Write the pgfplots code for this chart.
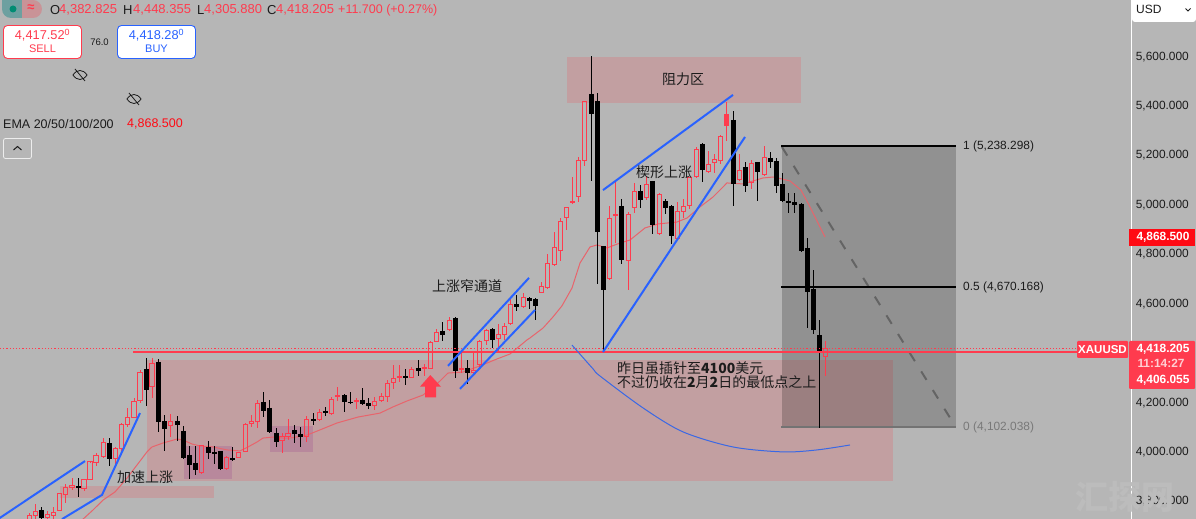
\documentclass[border=0pt]{standalone}
\usepackage{pgfplots}
\usepackage{pgfplotstable}
\pgfplotsset{compat=1.18}
\usepackage{fontspec}
\setmainfont{Liberation Sans}
\newfontfamily\cjk{Noto Sans CJK SC}
\definecolor{bgc}{HTML}{B6B6B6}
\definecolor{upc}{HTML}{FF3B4E}
\definecolor{tagr}{HTML}{FF0A14}
\definecolor{bluec}{HTML}{2962FF}
\definecolor{zonec}{HTML}{F44350}
\definecolor{emac}{HTML}{E8646C}
\definecolor{txt}{HTML}{1C1C1C}
% x is the bar position on the chart, t/b body top and bottom, h/l wick ends
\pgfplotstableread{
x t b h l
29.3 3743 3700 3751 3690
35.3 3758 3742 3789 3700
47.3 3747 3733 3758 3700
53.3 3755 3742 3778 3700
59.3 3832 3762 3832 3762
65.3 3857 3827 3868 3794
72 3864 3856 3893 3845
84 3886 3852 3890 3839
90 3959 3889 3960 3886
96 3983 3956 3994 3940
103.3 4038 3980 4054 3977
115.3 4014 3972 4018 3951
121.3 4108 4013 4115 3987
127.3 4139 4110 4176 4099
134 4204 4139 4216 4135
140 4321 4207 4331 4196
152 4355 4263 4378 4216
170.7 4123 4104 4153 4061
201.3 4023 3915 4023 3913
226.7 3977 3930 3983 3924
238.7 3998 3976 4000 3976
245.3 4111 4002 4115 4000
251.3 4122 4114 4149 4099
257.3 4193 4124 4209 4096
282 4061 4046 4075 3996
288 4075 4061 4131 4048
306.3 4131 4061 4144 4041
319.3 4159 4130 4171 4128
331.3 4212 4154 4223 4153
337.3 4229 4224 4260 4204
356.3 4206 4201 4216 4174
374.3 4204 4186 4220 4169
381.3 4224 4206 4239 4201
387.3 4277 4223 4290 4201
393.3 4297 4281 4351 4255
399.3 4303 4301 4349 4282
411.3 4333 4301 4341 4298
424.3 4339 4336 4355 4306
430.3 4442 4337 4449 4336
436.3 4483 4446 4495 4444
449.3 4531 4496 4546 4487
461.3 4336 4333 4406 4317
473.3 4329 4322 4406 4309
479.3 4446 4352 4452 4344
486.3 4491 4449 4495 4430
498.3 4475 4457 4515 4405
504.3 4508 4473 4519 4452
510.3 4596 4518 4624 4514
523.3 4624 4587 4640 4584
541.3 4669 4645 4688 4641
547.3 4762 4664 4800 4660
554.3 4827 4757 4889 4751
560.3 4932 4815 4947 4773
566.3 4986 4948 4991 4897
578.3 5179 5032 5191 5011
584.3 5417 5177 5418 5157
609.3 4944 4699 4994 4695
628.3 4961 4773 4970 4654
634.3 5053 4987 5086 4967
646.3 5081 5028 5115 5018
659.3 5041 4882 5045 4881
677.3 4972 4863 5009 4856
683.3 4993 4971 5022 4947
689.3 5107 4994 5112 4980
696.3 5223 5112 5234 5110
708.3 5162 5133 5216 5129
714.3 5183 5169 5204 5129
720.3 5276 5177 5281 5164
739.3 5138 5102 5204 5096
751.3 5166 5088 5180 5063
764.3 5191 5123 5236 5115
825.3 4418 4383 4448 4306
}\upbars
\pgfplotstableread{
x t b h l
572.3 5013 5005 5112 5002
615.3 4960 4955 5092 4843
726.3 5366 5317 5416 5258
}\upfilled
\pgfplotstableread{
x t b h l
41.3 3763 3732 3775 3700
78 3860 3852 3893 3818
109.3 4034 3972 4054 3942
146 4335 4250 4378 4185
158 4363 4120 4374 4081
164 4123 4092 4149 4003
177.3 4124 4108 4145 4045
183.3 4084 3975 4104 3969
189.3 3987 3947 4021 3889
195.3 3955 3926 4023 3906
208 4019 3995 4044 3972
214 3999 3992 4023 3951
220 4003 3928 4003 3926
232.7 3973 3965 4018 3964
263.3 4201 4166 4242 4142
269.3 4177 4081 4209 4075
276 4076 4039 4095 4018
294 4088 4072 4108 4037
300.3 4072 4060 4101 4020
313.3 4132 4126 4155 4109
325.3 4165 4155 4182 4144
344.3 4229 4201 4233 4161
350.3 4201 4198 4241 4193
362.3 4209 4193 4258 4190
368.3 4197 4185 4217 4174
405.3 4306 4299 4333 4271
418.3 4339 4328 4371 4306
442.3 4488 4472 4525 4448
455.3 4541 4328 4543 4298
467.3 4339 4320 4371 4274
492.3 4496 4453 4499 4418
516.3 4597 4584 4634 4570
529.3 4620 4611 4624 4578
535.3 4616 4591 4620 4533
591.3 5447 5367 5600 5096
597.3 5418 4889 5449 4678
603.3 4832 4655 4832 4405
621.3 4994 4775 5022 4759
640.3 5055 5018 5079 4987
652.3 5095 4917 5096 4879
665.3 5013 4987 5021 4962
671.3 4994 4874 4998 4840
702.3 5245 5139 5247 5091
733.3 5342 5083 5377 4994
745.3 5152 5076 5173 5052
757.3 5172 5133 5172 5014
770.3 5188 5173 5214 5146
776.3 5175 5075 5187 5048
782.3 5081 5014 5126 5010
788.3 5014 5005 5045 4967
794.3 5010 4999 5045 4964
801 5002 4812 5007 4807
807.3 4823 4647 4863 4501
813.3 4658 4494 4735 4476
819.3 4471 4401 4533 4097
}\downbars
\pgfplotsset{
  vbar/.style={draw=none,mark=none,forget plot,error bars/.cd,y dir=both,y explicit,error mark=none,
     error bar style={draw=#1,line width=1pt}},
  bodyb/.style={draw=none,mark=none,forget plot,error bars/.cd,y dir=both,y explicit,error mark=none,
     error bar style={draw=#1,line width=5pt}},
  hbar/.style={draw=none,mark=none,forget plot,error bars/.cd,x dir=both,x fixed=2.6,error mark=none,
     error bar style={draw=upc,line width=1pt}},
}
\newcommand{\wicks}[2]{%
  \addplot[vbar=#2] table[x=x,y=t,y error plus expr=\thisrow{h}-\thisrow{t},y error minus expr=0]{#1};
  \addplot[vbar=#2] table[x=x,y=b,y error plus expr=0,y error minus expr=\thisrow{b}-\thisrow{l}]{#1};
}
\newcommand{\PX}[2]{({#1pt},{519pt-#2pt})}
\begin{document}
\begin{tikzpicture}
\useasboundingbox (0,0) rectangle (1196pt,519pt);
\begin{axis}[
  at={(0,0)},anchor=south west,scale only axis,width=1196pt,height=519pt,
  xmin=0,xmax=1196,ymin=3727.6,ymax=5827,
  axis background/.style={fill=bgc},
  axis line style={draw=none},
  axis y line*=right,axis x line=none,
  xtick=\empty,
  ytick={3800,4000,4200,4600,4800,5000,5200,5400,5600},
  yticklabels={3{,}800.000,4{,}000.000,4{,}200.000,4{,}600.000,4{,}800.000,5{,}000.000,5{,}200.000,5{,}400.000,5{,}600.000},
  y tick style={draw=none},
  yticklabel style={anchor=east,xshift=-7pt,yshift=-0.5pt,font=\fontsize{11.9}{12}\selectfont,text=txt,inner sep=0pt},
  clip=true,
]
% zones
\addplot[draw=none,fill=zonec,fill opacity=0.2,forget plot] coordinates {(147,4371)(893,4371)(893,3881)(147,3881)} -- cycle;
\addplot[draw=none,fill=zonec,fill opacity=0.2,forget plot] coordinates {(567,5596)(801,5596)(801,5410)(567,5410)} -- cycle;
\addplot[draw=none,fill=zonec,fill opacity=0.2,forget plot] coordinates {(60,3861)(214,3861)(214,3813)(60,3813)} -- cycle;
\addplot[draw=none,fill=violet,fill opacity=0.14,forget plot] coordinates {(184,4023)(232,4023)(232,3889)(184,3889)} -- cycle;
\addplot[draw=none,fill=violet,fill opacity=0.14,forget plot] coordinates {(270,4104)(313,4104)(313,3999)(270,3999)} -- cycle;
% fibonacci box
\addplot[draw=none,fill=black,fill opacity=0.2,forget plot] coordinates {(782,5238.3)(956,5238.3)(956,4102)(782,4102)} -- cycle;
\addplot[black!45!bgc,line width=2pt,dash pattern=on 10pt off 12pt,forget plot] coordinates {(782,5232)(952,4124)};
\addplot[black,line width=2pt,forget plot] coordinates {(781,5238.3)(956,5238.3)};
\addplot[black,line width=2pt,forget plot] coordinates {(781,4666)(956,4666)};
\addplot[gray!90!black,line width=2pt,forget plot] coordinates {(781,4098)(956,4098)};
% EMA
\addplot[emac,line width=1pt,forget plot] coordinates {
(83,3727)(93,3764)(103,3804)(115,3837)(127,3893)(137,3946)(147,3999)(152,4019)(163,4035)(177,4051)(183,4047)(192,4031)(200,4023)(213,4019)(227,4007)(240,4003)(248,4019)(257,4039)(263,4055)(273,4059)(283,4055)(290,4055)
(307,4067)(320,4088)(337,4116)(358,4140)(380,4156)(393,4181)(407,4205)(423,4229)(438,4278)(448,4318)(463,4322)(480,4347)(497,4375)(510,4395)(527,4452)(530,4460)(543,4500)(553,4545)(562,4590)(572,4662)(580,4763)(590,4828)(597,4836)(607,4824)(620,4844)(630,4856)(645,4905)(658,4921)(677,4929)(687,4945)(700,4990)(713,5030)(727,5087)(743,5083)(763,5107)(773,5111)(782,5103)(790,5095)(801,5058)(810,4990)(825,4868.5)};
% candles: wicks, bodies
\wicks{\downbars}{black}
\addplot[bodyb=black] table[x=x,y=t,y error plus expr=0,y error minus expr=\thisrow{t}-\thisrow{b}]{\downbars};
\addplot[vbar=white] coordinates {(232.7,3969)};
\wicks{\upbars}{upc}
\wicks{\upfilled}{upc}
\addplot[bodyb=upc] table[x=x,y=t,y error plus expr=0,y error minus expr=\thisrow{t}-\thisrow{b}]{\upfilled};
\addplot[vbar=upc] table[x expr=\thisrow{x}-2.2,y=t,y error plus expr=0,y error minus expr=\thisrow{t}-\thisrow{b}]{\upbars};
\addplot[vbar=upc] table[x expr=\thisrow{x}+2.2,y=t,y error plus expr=0,y error minus expr=\thisrow{t}-\thisrow{b}]{\upbars};
\addplot[hbar] table[x=x,y=t]{\upbars};
\addplot[hbar] table[x=x,y=b]{\upbars};
% price lines
\addplot[upc,line width=2pt,forget plot] coordinates {(133,4403)(1078,4403)};
\addplot[upc,line width=0.7pt,dash pattern=on 1.2pt off 2pt,forget plot] coordinates {(0,4416)(1078,4416)};
% trend lines
\addplot[bluec,line width=2pt,forget plot] coordinates {(-2,3727)(85,3962)};
\addplot[bluec,line width=2pt,forget plot] coordinates {(62,3727)(102,3825)(140,4156)};
\addplot[bluec,line width=2pt,forget plot] coordinates {(448,4347)(529,4703)};
\addplot[bluec,line width=2pt,forget plot] coordinates {(460,4254)(535,4573)};
\addplot[bluec,line width=2pt,forget plot] coordinates {(603,5058)(733,5443)};
\addplot[bluec,line width=2pt,forget plot] coordinates {(603,4403)(745,5273)};
\addplot[bluec!80!gray,line width=1pt,smooth,forget plot] coordinates {(572,4431)(593,4335)(600,4306)(643,4177)(683,4080)(733,4019)(783,3999)(817,4007)(850,4027)};
% arrow
\addplot[draw=none,fill=upc,forget plot] coordinates {(430.3,4310)(441,4263)(436,4263)(436,4220)(425,4220)(425,4263)(420,4263)} -- cycle;
\end{axis}
% right scale, tags and tool panels
\draw[white,line width=1pt] \PX{1131}{0} -- \PX{1131}{519};
\fill[tagr] \PX{1129}{229} rectangle \PX{1195}{246};
\node[text=white,font=\fontsize{11.9}{12}\selectfont\bfseries,inner sep=0pt] at \PX{1163}{237.5} {4,868.500};
\fill[upc,rounded corners=1pt] \PX{1129}{341} rectangle \PX{1195}{389};
\node[text=white,font=\fontsize{11.9}{12}\selectfont\bfseries,inner sep=0pt] at \PX{1163}{349} {4,418.205};
\node[text=white!75!upc,font=\fontsize{11.9}{12}\selectfont\bfseries,inner sep=0pt] at \PX{1161}{363.5} {11:14:27};
\node[text=white,font=\fontsize{11.9}{12}\selectfont\bfseries,inner sep=0pt] at \PX{1163}{380} {4,406.055};
\fill[upc,rounded corners=1pt] \PX{1077}{341} rectangle \PX{1128}{358};
\node[text=white,font=\fontsize{11.5}{12}\selectfont\bfseries,inner sep=0pt] at \PX{1102.5}{349.5} {XAUUSD};
\fill[white,rounded corners=3pt] \PX{1132}{-5} rectangle \PX{1196}{22};
\node[anchor=west,text=txt,font=\fontsize{12}{12}\selectfont,inner sep=0pt] at \PX{1136}{9.5} {USD};
\draw[txt,line width=0.8pt] \PX{1185.5}{8.5} -- \PX{1188}{11} -- \PX{1190.5}{8.5};
% fib labels
\node[anchor=west,text=txt,font=\fontsize{11.9}{12}\selectfont,inner sep=0pt] at \PX{963}{146} {1 (5,238.298)};
\node[anchor=west,text=txt,font=\fontsize{11.9}{12}\selectfont,inner sep=0pt] at \PX{963}{287} {0.5 (4,670.168)};
\node[anchor=west,text=gray!95!black,font=\fontsize{11.9}{12}\selectfont,inner sep=0pt] at \PX{963}{427} {0 (4,102.038)};
% annotations
\node[text=txt,font=\cjk\fontsize{14}{14}\selectfont,inner sep=0pt] at \PX{683}{79} {阻力区};
\node[text=txt,font=\cjk\fontsize{14}{14}\selectfont,inner sep=0pt] at \PX{664}{172} {楔形上涨};
\node[text=txt,font=\cjk\fontsize{14}{14}\selectfont,inner sep=0pt] at \PX{467}{286} {上涨窄通道};
\node[text=txt,font=\cjk\fontsize{14}{14}\selectfont,inner sep=0pt] at \PX{145}{477} {加速上涨};
\node[anchor=west,text=txt,font=\cjk\fontsize{14}{14}\selectfont,inner sep=0pt] at \PX{617}{368} {昨日虽插针至{\bfseries 4100}美元};
\node[anchor=west,text=txt,font=\cjk\fontsize{14}{14}\selectfont,inner sep=0pt] at \PX{617}{382.5} {不过仍收在{\bfseries 2}月{\bfseries 2}日的最低点之上};
% header
\fill[teal!40!bgc] \PX{2}{0} -- \PX{22}{0} -- \PX{22}{18} -- \PX{11}{18} arc[start angle=270,end angle=180,radius=9pt] -- cycle;
\fill[zonec!30!bgc] \PX{22}{0} -- \PX{33}{0} arc[start angle=90,end angle=-90,radius=9pt] -- \PX{22}{18} -- cycle;
\fill[teal!90!green] \PX{13}{9} circle (3.5pt);
\node[text=upc,font=\fontsize{13}{13}\selectfont\bfseries,inner sep=0pt] at \PX{31}{8.5} {≈};
\foreach \lx/\l/\vx/\v in {50/O/59/{4,382.825},123/H/133/{4,448.355},197/L/204/{4,305.880},267/C/276/{4,418.205}}{
  \node[anchor=west,text=txt,font=\fontsize{13}{13}\selectfont,inner sep=0pt] at \PX{\lx}{10} {\l};
  \node[anchor=west,text=upc,font=\fontsize{13}{13}\selectfont,inner sep=0pt] at \PX{\vx}{10} {\v};
}
\node[anchor=west,text=upc,font=\fontsize{12.5}{13}\selectfont,inner sep=0pt] at \PX{338}{10} {+11.700 (+0.27\%)};
% sell / buy
\filldraw[fill=white,draw=upc,line width=0.9pt,rounded corners=4pt] \PX{3.5}{25.5} rectangle \PX{81.5}{58.5};
\filldraw[fill=white,draw=bluec,line width=0.9pt,rounded corners=4pt] \PX{117.5}{25.5} rectangle \PX{195.5}{58.5};
\node[text=upc,font=\fontsize{12.8}{13}\selectfont,inner sep=0pt] at \PX{42.5}{35} {4,417.52\textsuperscript{0}};
\node[text=upc,font=\fontsize{11}{11}\selectfont,inner sep=0pt] at \PX{42.5}{49} {SELL};
\node[text=bluec,font=\fontsize{12.8}{13}\selectfont,inner sep=0pt] at \PX{156.5}{35} {4,418.28\textsuperscript{0}};
\node[text=bluec,font=\fontsize{11}{11}\selectfont,inner sep=0pt] at \PX{156.5}{49} {BUY};
\node[text=txt,font=\fontsize{9.5}{10}\selectfont,inner sep=0pt] at \PX{99.5}{42} {76.0};
% hidden-indicator eyes
\foreach \ex/\ey in {80/75,134/99}{
  \draw[txt,line width=0.8pt] \PX{\ex-7}{\ey} .. controls \PX{\ex-3}{\ey-6} and \PX{\ex+3}{\ey-6} .. \PX{\ex+7}{\ey} .. controls \PX{\ex+3}{\ey+6} and \PX{\ex-3}{\ey+6} .. cycle;
  \draw[txt,line width=0.8pt] \PX{\ex-5}{\ey+6} -- \PX{\ex+5}{\ey-6};
}
\node[anchor=west,text=txt,font=\fontsize{12.5}{13}\selectfont,inner sep=0pt] at \PX{3}{124} {EMA 20/50/100/200};
\node[anchor=west,text=tagr,font=\fontsize{12.5}{13}\selectfont,inner sep=0pt] at \PX{127}{124} {4,868.500};
\draw[white!75!bgc,line width=0.8pt,rounded corners=2pt] \PX{3.5}{138.5} rectangle \PX{31.5}{158.5};
\draw[txt,line width=1pt] \PX{13.5}{150} -- \PX{17.5}{146.5} -- \PX{21.5}{150};
% watermark
\node[text=white!9!bgc,font=\cjk\bfseries\fontsize{33}{33}\selectfont,inner sep=0pt] at \PX{1125}{497} {汇探网};
\end{tikzpicture}
\end{document}
